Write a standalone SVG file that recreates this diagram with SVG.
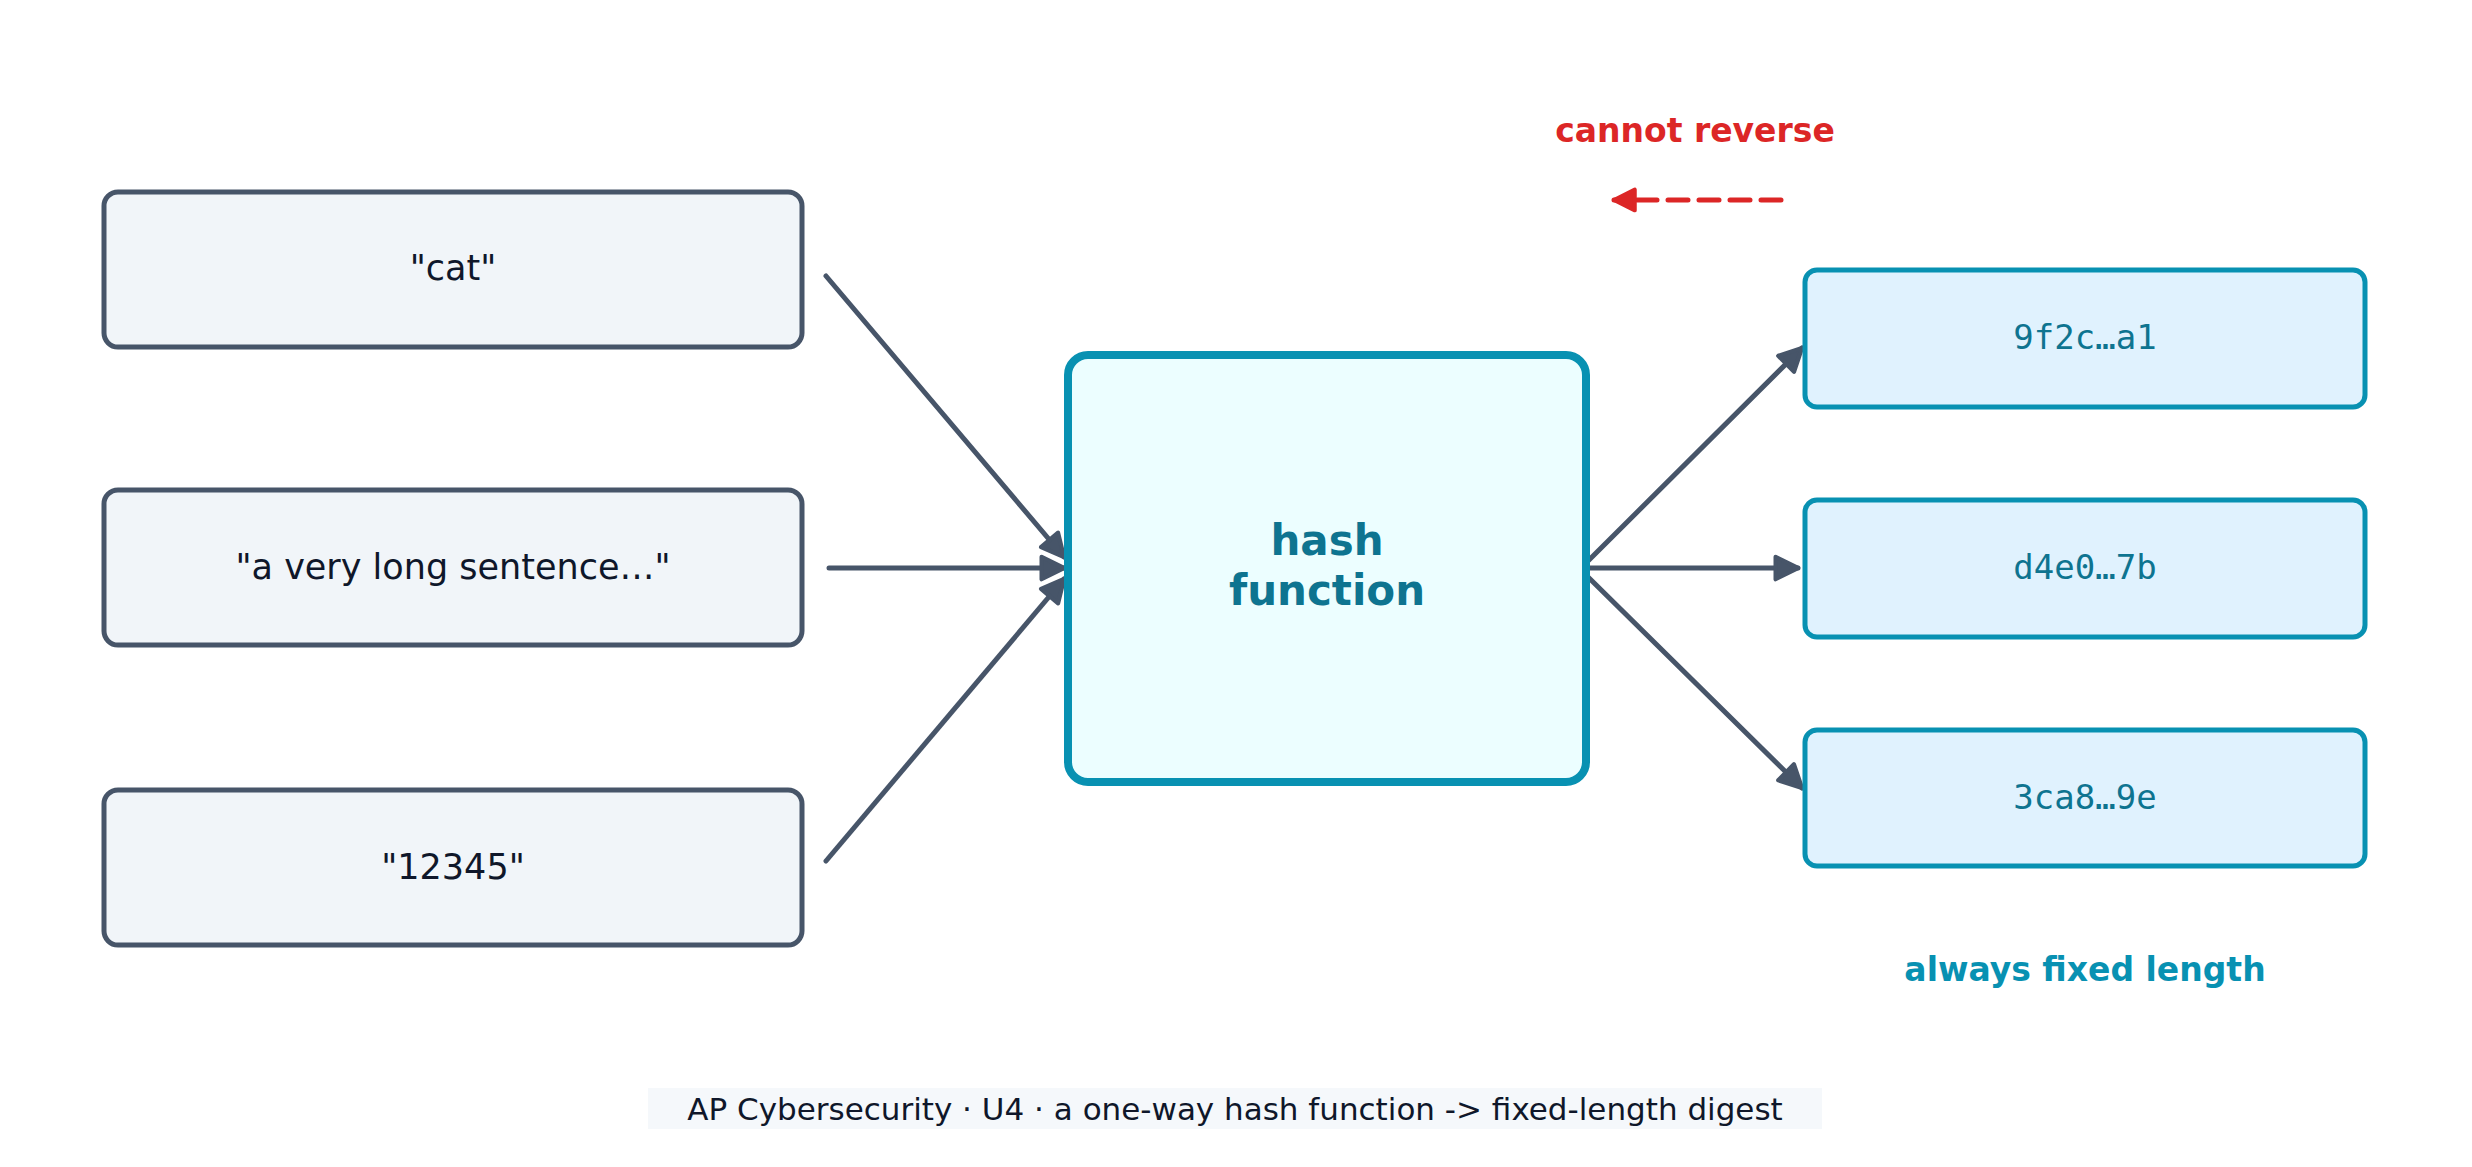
<svg xmlns="http://www.w3.org/2000/svg" width="2472" height="1167" viewBox="0 0 2472 1167">
<style>
.in{fill:#f1f5f9;stroke:#475569;stroke-width:5}
.out{fill:#e0f2fe;stroke:#0891b2;stroke-width:5}
.t{font-family:"DejaVu Sans",sans-serif;font-size:35px;fill:#0f172a;text-anchor:middle}
.m{font-family:"DejaVu Sans Mono",monospace;font-size:34px;fill:#0e7490;text-anchor:middle}
.c{stroke:#475569;stroke-width:5;fill:none;stroke-linecap:round}
</style>
<defs>
<marker id="a" viewBox="0 0 10 10" refX="8" refY="5" markerWidth="6" markerHeight="6" markerUnits="userSpaceOnUse" orient="auto" style="overflow:visible"><path d="M0,0 L10,5 L0,10 z" fill="#475569" transform="scale(2.6) translate(-2,-0)"/></marker>
<marker id="ah" viewBox="0 0 10 10" refX="9" refY="5" markerWidth="28" markerHeight="28" markerUnits="userSpaceOnUse" orient="auto"><path d="M1,1 L9,5 L1,9 z" fill="#475569" stroke="#475569" stroke-width="1.5" stroke-linejoin="round"/></marker>
<marker id="ar" viewBox="0 0 10 10" refX="9" refY="5" markerWidth="26" markerHeight="26" markerUnits="userSpaceOnUse" orient="auto"><path d="M1,1 L9,5 L1,9 z" fill="#dc2626" stroke="#dc2626" stroke-width="1.5" stroke-linejoin="round"/></marker>
</defs>
<rect width="2472" height="1167" fill="#fff"/>
<g id="connectors">
<line class="c" x1="826" y1="276" x2="1064" y2="557" marker-end="url(#ah)"/>
<line class="c" x1="829" y1="568" x2="1064" y2="568" marker-end="url(#ah)"/>
<line class="c" x1="826" y1="861" x2="1064" y2="579" marker-end="url(#ah)"/>
<line class="c" x1="1586" y1="563" x2="1802" y2="348" marker-end="url(#ah)"/>
<line class="c" x1="1586" y1="568" x2="1798" y2="568" marker-end="url(#ah)"/>
<line class="c" x1="1586" y1="575" x2="1802" y2="788" marker-end="url(#ah)"/>
<line x1="1781" y1="200" x2="1614" y2="200" stroke="#dc2626" stroke-width="5" stroke-dasharray="20,11" stroke-linecap="round" marker-end="url(#ar)"/>
</g>
<g id="in1"><rect class="in" x="104" y="192" width="698" height="155" rx="14"/><text class="t" x="453" y="280">"cat"</text></g>
<g id="in2"><rect class="in" x="104" y="490" width="698" height="155" rx="14"/><text class="t" x="453" y="579">"a very long sentence…"</text></g>
<g id="in3"><rect class="in" x="104" y="790" width="698" height="155" rx="14"/><text class="t" x="453" y="879">"12345"</text></g>
<g id="hash"><rect x="1068" y="355" width="518" height="427" rx="20" fill="#ecfeff" stroke="#0891b2" stroke-width="8"/>
<text font-family="DejaVu Sans,sans-serif" font-weight="bold" font-size="42" fill="#0e7490" text-anchor="middle"><tspan x="1327" y="555">hash</tspan><tspan x="1327" y="605">function</tspan></text></g>
<g id="out1"><rect class="out" x="1805" y="270" width="560" height="137" rx="12"/><text class="m" x="2085" y="349">9f2c…a1</text></g>
<g id="out2"><rect class="out" x="1805" y="500" width="560" height="137" rx="12"/><text class="m" x="2085" y="579">d4e0…7b</text></g>
<g id="out3"><rect class="out" x="1805" y="730" width="560" height="136" rx="12"/><text class="m" x="2085" y="809">3ca8…9e</text></g>
<g id="lbl-reverse"><text x="1695" y="142" font-family="DejaVu Sans,sans-serif" font-weight="bold" font-size="33" fill="#dc2626" text-anchor="middle">cannot reverse</text></g>
<g id="lbl-fixed"><text x="2085" y="981" font-family="DejaVu Sans,sans-serif" font-weight="bold" font-size="33" fill="#0891b2" text-anchor="middle">always fixed length</text></g>
<g id="footer"><rect x="648" y="1088" width="1174" height="41" fill="#f1f5f9" opacity="0.7"/><text x="1235" y="1120" font-family="DejaVu Sans,sans-serif" font-size="31" fill="#0f172a" text-anchor="middle">AP Cybersecurity · U4 · a one-way hash function -&gt; fixed-length digest</text></g>
</svg>
